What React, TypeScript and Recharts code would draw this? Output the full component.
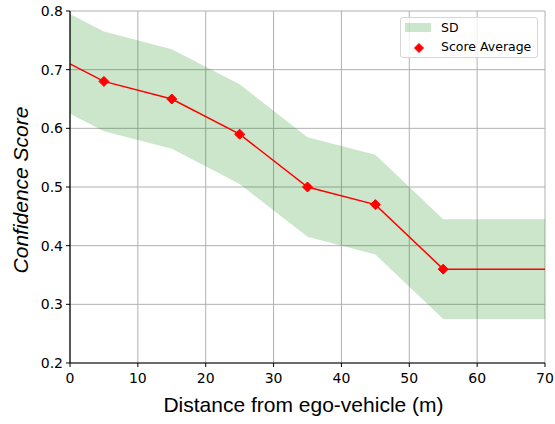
import React from 'react';
import { ComposedChart, Area, Line, XAxis, YAxis, CartesianGrid } from 'recharts';

// distance from ego-vehicle (m)
const distances = [0, 5, 15, 25, 35, 45, 55, 70];
const scoreAverage = [0.71, 0.68, 0.65, 0.59, 0.5, 0.47, 0.36, 0.36];
const sdUpper = [0.795, 0.765, 0.735, 0.675, 0.585, 0.555, 0.445, 0.445];
const sdLower = [0.625, 0.595, 0.565, 0.505, 0.415, 0.385, 0.275, 0.275];
// the points that carry a diamond marker
const markerDistances = [5, 15, 25, 35, 45, 55];

const xTicks = [0, 10, 20, 30, 40, 50, 60, 70];
const yTicks = [0.2, 0.3, 0.4, 0.5, 0.6, 0.7, 0.8];

const data = distances.map((d, i) => ({
  distance: d,
  avg: scoreAverage[i],
  sd: [sdLower[i], sdUpper[i]],
}));

const tickStyle = { fontFamily: 'DejaVu Sans', fontSize: 14, fill: '#000' };
const labelFont = 'Liberation Sans, Arial, sans-serif';

const Diamond = ({ cx, cy, r }: { cx: number; cy: number; r: number }) => (
  <polygon
    points={`${cx},${cy - r} ${cx + r},${cy} ${cx},${cy + r} ${cx - r},${cy}`}
    fill="#ff0000"
    stroke="#ff0000"
    strokeWidth={1}
  />
);

const renderDot = (props: any) => {
  const { cx, cy, payload, index } = props;
  if (!markerDistances.includes(payload.distance)) return <g key={`d-${index}`} />;
  return (
    <g key={`d-${index}`}>
      <Diamond cx={cx} cy={cy} r={5} />
    </g>
  );
};

const XLabel = (props: any) => {
  const { viewBox } = props;
  return (
    <text
      x={viewBox.x + viewBox.width / 2 - 4}
      y={412}
      textAnchor="middle"
      fontFamily={labelFont}
      fontSize={21}
      fill="#000"
    >
      Distance from ego-vehicle (m)
    </text>
  );
};

const YLabel = () => (
  <text
    x={28}
    y={190}
    transform="rotate(-90, 28, 190)"
    textAnchor="middle"
    fontFamily={labelFont}
    fontStyle="italic"
    fontSize={21}
    fill="#000"
  >
    Confidence Score
  </text>
);

const LegendBox = () => (
  <div
    style={{
      position: 'absolute',
      left: 400,
      top: 17,
      width: 136,
      height: 39,
      border: '1px solid #d6d6d6',
      borderRadius: 3,
      background: 'rgba(255,255,255,0.8)',
      fontFamily: 'DejaVu Sans',
      fontSize: 12.5,
      color: '#000',
    }}
  >
    <div style={{ position: 'absolute', left: 4, top: 5, width: 26, height: 9, background: 'rgba(0,128,0,0.2)' }} />
    <div style={{ position: 'absolute', left: 40, top: 1, lineHeight: '18px' }}>SD</div>
    <svg style={{ position: 'absolute', left: 12, top: 24 }} width={12} height={12}>
      <Diamond cx={6} cy={6} r={4.5} />
    </svg>
    <div style={{ position: 'absolute', left: 40, top: 20, lineHeight: '18px' }}>Score Average</div>
  </div>
);

export default function App() {
  return (
    <div style={{ position: 'absolute', left: 0, top: 0, width: 555, height: 424, background: '#fff' }}>
      <ComposedChart width={555} height={424} data={data} margin={{ top: 11, right: 10, left: 0, bottom: 0 }}>
        <CartesianGrid stroke="#b0b0b0" strokeWidth={1} />
        <XAxis
          dataKey="distance"
          type="number"
          domain={[0, 70]}
          ticks={xTicks}
          tick={tickStyle}
          tickSize={4}
          tickMargin={6}
          tickLine={{ stroke: '#000' }}
          axisLine={{ stroke: '#000', strokeWidth: 1.2 }}
          height={61}
          label={<XLabel />}
        />
        <YAxis
          type="number"
          domain={[0.2, 0.8]}
          ticks={yTicks}
          tickFormatter={(v: number) => v.toFixed(1)}
          tick={tickStyle}
          tickSize={4}
          tickMargin={3}
          tickLine={{ stroke: '#000' }}
          axisLine={{ stroke: '#000', strokeWidth: 1.2 }}
          width={70}
          allowDataOverflow
          label={<YLabel />}
        />
        <XAxis
          xAxisId="top"
          orientation="top"
          type="number"
          domain={[0, 70]}
          height={0}
          tick={false}
          tickLine={false}
          axisLine={{ stroke: '#000', strokeWidth: 1.2 }}
        />
        <YAxis
          yAxisId="right"
          orientation="right"
          type="number"
          domain={[0.2, 0.8]}
          width={0}
          tick={false}
          tickLine={false}
          axisLine={{ stroke: '#000', strokeWidth: 1.2 }}
        />
        <Area
          dataKey="sd"
          type="linear"
          fill="#008000"
          fillOpacity={0.2}
          stroke="none"
          isAnimationActive={false}
        />
        <Line
          dataKey="avg"
          type="linear"
          stroke="#ff0000"
          strokeWidth={1.5}
          dot={renderDot}
          activeDot={false}
          isAnimationActive={false}
        />
      </ComposedChart>
      <LegendBox />
    </div>
  );
}
